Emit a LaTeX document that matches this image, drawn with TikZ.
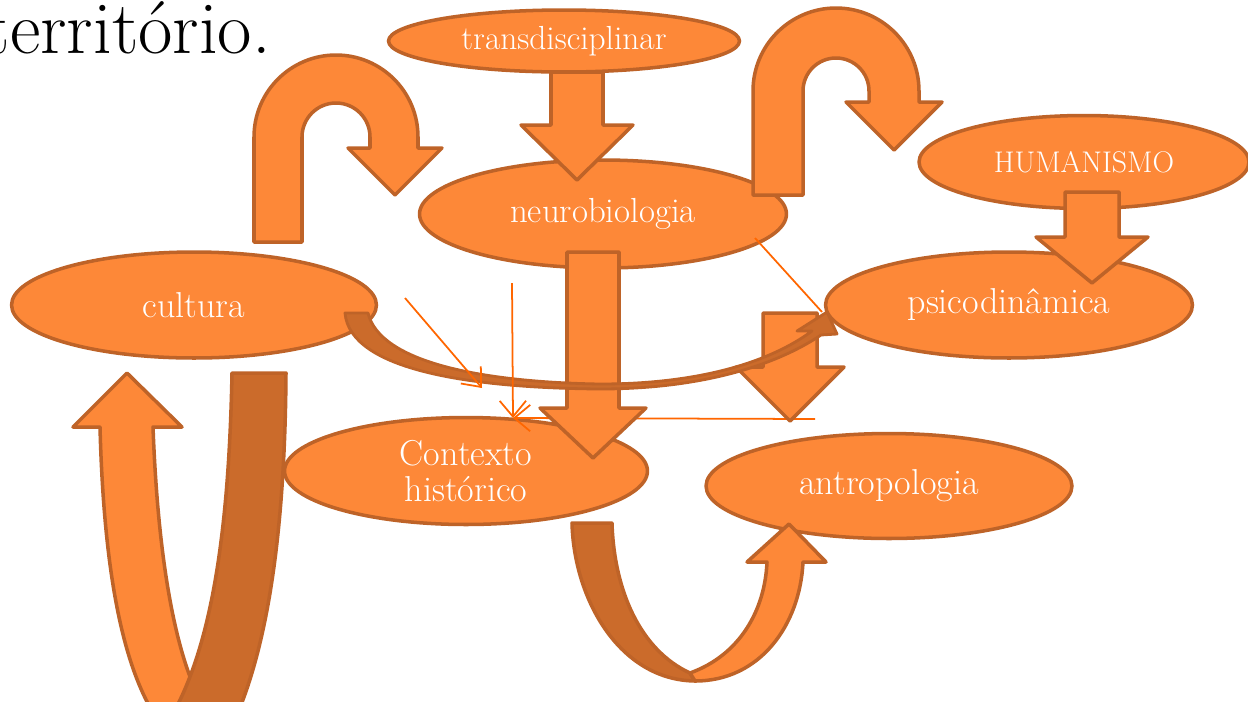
\documentclass[tikz,border=0pt]{standalone}
\usetikzlibrary{shapes.geometric,arrows.meta}
\definecolor{orangefill}{RGB}{253,136,56}
\definecolor{orangeedge}{RGB}{190,99,40}
\definecolor{orangeback}{RGB}{203,107,43}
\definecolor{orangethin}{RGB}{255,102,0}

\begin{document}
\begin{tikzpicture}[x=0.02cm, y=-0.02cm,
  bubble/.style={ellipse, draw=orangeedge, fill=orangefill, line width=2pt,
    text=white, inner sep=0pt, align=center, font=\fontsize{20.5}{20}\selectfont},
  blockarrow/.style={draw=orangeedge, fill=orangefill, line width=2pt, line join=round},
  backband/.style={blockarrow, fill=orangeback},
  thinline/.style={draw=orangethin, line width=1pt, -{Straight Barb[length=9pt,width=15pt]}}]
  \useasboundingbox (0,0) rectangle (1248,701);
  \clip (0,0) rectangle (1248,701);

  % Title fragment
  \node[anchor=base east, font=\fontsize{42.5}{46}\selectfont] (title) at (277,53) {território.};

  % Ellipses
  \node[bubble, minimum width=7.02cm, minimum height=1.24cm, font=\fontsize{19}{18}\selectfont] (trans) at (564,41) {transdisciplinar};
  \node[bubble, minimum width=7.34cm, minimum height=2.16cm, font=\fontsize{19.8}{20}\selectfont] (neuro) at (603,214) {neurobiologia};
  \node[bubble, minimum width=6.6cm, minimum height=1.86cm, font=\fontsize{17}{18}\selectfont] (human) at (1084,162) {HUMANISMO};
  \node[bubble, minimum width=7.34cm, minimum height=2.12cm] (psico) at (1009,305) {psicodinâmica};
  \node[bubble, minimum width=7.3cm, minimum height=2.12cm] (cult) at (194,305) {cultura};
  \node[bubble, minimum width=7.26cm, minimum height=2.14cm] (ctx) at (466,471) {Contexto\\histórico};
  \node[bubble, minimum width=7.32cm, minimum height=2.1cm] (antro) at (889,486) {antropologia};

  % Thin connectors: free ends
  \coordinate (a1) at (405,298);
  \coordinate (a2) at (482,388);
  \coordinate (b1) at (512,283);
  \coordinate (b2) at (513,418);
  \coordinate (c1) at (815,419);
  \coordinate (d1) at (755,238);
  \coordinate (d2) at (822,312);
  \draw[thinline] (c1) -- (b2);

  % Straight block arrows
  \foreach \cx/\ya/\yb/\yc/\s/\h in {577/72/125/180/26/56, 593/252/408/458/26/53,
                                     1092/192/237/283/27/56, 790/313/367/421/27/54}
    \draw[blockarrow] (\cx-\s,\ya) -- (\cx+\s,\ya) -- (\cx+\s,\yb) -- (\cx+\h,\yb)
      -- (\cx,\yc) -- (\cx-\h,\yb) -- (\cx-\s,\yb) -- cycle;

  % U-turn arrows
  \draw[blockarrow] (254,242) -- (254,137) arc[start angle=180, end angle=360, radius=82]
    -- (418,148) -- (442,148) -- (395,195) -- (348,148) -- (370,148)
    -- (370,137) arc[start angle=360, end angle=180, radius=34] -- (302,242) -- cycle;
  \draw[blockarrow] (753,195) -- (753,91) arc[start angle=180, end angle=360, radius=83]
    -- (919,102) -- (942,102) -- (894,150) -- (846,102) -- (869,102)
    -- (869,91) arc[start angle=360, end angle=180, radius=33] -- (803,195) -- cycle;

  % Curved arrow, lower left
  \draw[blockarrow] (100,427) .. controls (104,580) and (125,680) .. (165,730) -- (200,730)
    -- (200,700) .. controls (175,650) and (158,560) .. (153,427)
    -- (182,427) -- (127,373) -- (73,427) -- cycle;
  \draw[backband] (232,373) .. controls (229,530) and (212,640) .. (175,710) -- (225,740)
    .. controls (268,660) and (285,530) .. (286,373) -- cycle;

  % Curved arrow, Contexto to antropologia
  \draw[backband] (572,523) .. controls (574,600) and (620,680) .. (695,681) -- (690,673)
    .. controls (640,650) and (614,590) .. (612,523) -- cycle;
  \draw[blockarrow] (690,673) .. controls (740,655) and (765,610) .. (767,562) -- (747,562)
    -- (789,524) -- (826,562) -- (803,562) .. controls (800,625) and (760,681) .. (695,681) -- cycle;

  % Thin curved arrow, cultura to psicodinamica
  \draw[backband, line width=1.6pt] (368,313) .. controls (380,362) and (480,382) .. (600,384)
    .. controls (700,384) and (770,362) .. (812,331) -- (797,331) -- (827,312) -- (837,334)
    -- (821,335) .. controls (775,366) and (700,389) .. (600,389)
    .. controls (470,388) and (350,370) .. (345,313) -- cycle;

  % Thin connectors
  \draw[thinline] (a1) -- (a2);
  \draw[thinline] (b1) -- (b2);
  \draw[thinline, -] (d1) -- (d2);
\end{tikzpicture}
\end{document}
